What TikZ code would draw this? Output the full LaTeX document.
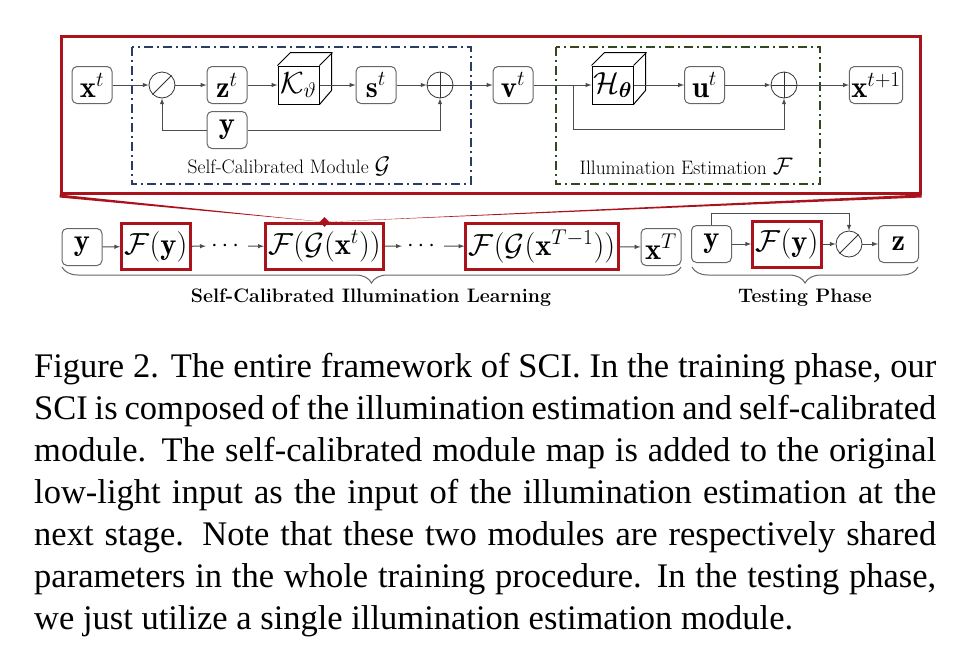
\documentclass[tikz,border=0pt]{standalone}
\usepackage{fix-cm}
\usepackage{amsmath}
\usepackage{fontspec}
\newfontfamily\capfont{Liberation Serif}
\usetikzlibrary{shapes.geometric, arrows, decorations.pathreplacing}

\definecolor{mred}{RGB}{170,18,28}
\definecolor{mblue}{RGB}{42,62,100}
\definecolor{mgreen}{RGB}{52,72,32}
\newcommand{\diagfont}{\fontsize{30.5}{34}\selectfont}
\newcommand{\tagfont}{\fontsize{19.5}{22}\selectfont}
\newcommand{\phasefont}{\fontsize{19.5}{22}\selectfont\bfseries}

\begin{document}
\begin{tikzpicture}[x=1pt, y=-1pt]
  \tikzstyle{line}=[draw, black!70, line width=1pt]
  \tikzstyle{arrow}=[draw, black!70, line width=1pt, -latex]
  \tikzstyle{var} = [rectangle, rounded corners=5pt, draw=black!60, line width=1pt, minimum width=40pt, minimum height=37pt, inner sep=2pt, font=\diagfont]
  \tikzstyle{stage} = [rectangle, draw=mred, line width=3pt, minimum height=46pt, inner sep=3pt, font=\diagfont]
  \tikzstyle{cube} = [rectangle, draw=black, line width=1pt, minimum width=41pt, minimum height=38pt, inner sep=0pt, font=\diagfont]
  \tikzstyle{op} = [circle, draw=black!80, line width=0.8pt, minimum size=26pt, inner sep=0pt]
  \tikzstyle{module} = [draw, line width=1.5pt, dash pattern=on 9pt off 4pt on 2pt off 4pt]
  \tikzstyle{phase} = [draw=black!60, line width=1pt, decorate, decoration={brace, mirror, amplitude=16pt}]

  \useasboundingbox (0,0) rectangle (955,649);

  \node (zoom) [draw=mred, line width=3pt, minimum width=859pt, minimum height=157pt, inner sep=0pt] at (490.5,114.5) {};
  \draw [module, mblue] (132,47) rectangle (471,184);
  \draw [module, mgreen] (556,47) rectangle (820,184);

  \node (xt) [var] at (92,85) {$\mathbf{x}^t$};
  \node (div1) [op] at (162,85) {};
  \draw [black!80, line width=0.8pt] (div1.225) -- (div1.45);
  \node (zt) [var] at (227,85) {$\mathbf{z}^t$};
  \node (K) [cube] at (298.5,85) {$\mathcal{K}_{\vartheta}$};
  \draw [line width=1pt] (K.north west) -- ++(13,-13) -- ++(41,0) -- ++(0,38) -- (K.south east);
  \draw [line width=1pt] (K.north east) -- ++(13,-13);
  \node (st) [var] at (376,85) {$\mathbf{s}^t$};
  \node (plus1) [op] at (440,85) {};
  \draw [black!80, line width=0.8pt] (plus1.north) -- (plus1.south) (plus1.west) -- (plus1.east);
  \node (yy) [var] at (227,130) {$\mathbf{y}$};
  \node (gtag) [font=\tagfont] at (289,166) {Self-Calibrated Module {\fontsize{24}{24}\selectfont$\mathcal{G}$}};

  \node (vt) [var] at (513,85) {$\mathbf{v}^t$};
  \coordinate (split) at (573,85);
  \node (H) [cube] at (612.5,85) {$\mathcal{H}_{\boldsymbol{\theta}}$};
  \draw [line width=1pt] (H.north west) -- ++(13,-13) -- ++(41,0) -- ++(0,38) -- (H.south east);
  \draw [line width=1pt] (H.north east) -- ++(13,-13);
  \node (ut) [var] at (704.5,85) {$\mathbf{u}^t$};
  \node (plus2) [op] at (784,85) {};
  \draw [black!80, line width=0.8pt] (plus2.north) -- (plus2.south) (plus2.west) -- (plus2.east);
  \node (xt1) [var] at (876,85) {$\mathbf{x}^{t+1}$};
  \node (ftag) [font=\tagfont] at (686,166) {Illumination Estimation {\fontsize{24}{24}\selectfont$\mathcal{F}$}};

  \draw [arrow] (xt) -- (div1);
  \draw [arrow] (div1) -- (zt);
  \draw [arrow] (zt) -- (K);
  \draw [arrow] (K) -- (st);
  \draw [arrow] (st) -- (plus1);
  \draw [arrow] (yy) -| (div1);
  \draw [arrow] (yy) -| (plus1);
  \draw [arrow] (plus1) -- (vt);
  \draw [arrow] (vt) -- (H);
  \draw [arrow] (split) -- ++(0,44) -| (plus2);
  \draw [arrow] (H) -- (ut);
  \draw [arrow] (ut) -- (plus2);
  \draw [arrow] (plus2) -- (xt1);

  \node (y1) [var] at (82,247) {$\mathbf{y}$};
  \node (Fy1) [stage] at (156,246.5) {$\mathcal{F}(\mathbf{y})$};
  \node (dots1) [inner sep=5pt, font=\fontsize{24}{24}\selectfont] at (227,246) {$\cdots$};
  \node (FGx) [stage] at (324.5,246.5) {$\mathcal{F}(\mathcal{G}(\mathbf{x}^t))$};
  \node (dots2) [inner sep=5pt, font=\fontsize{24}{24}\selectfont] at (423,246) {$\cdots$};
  \node (FGxT) [stage] at (542,246.5) {$\mathcal{F}(\mathcal{G}(\mathbf{x}^{T-1}))$};
  \node (xT) [var] at (661,247) {$\mathbf{x}^T$};

  \node (y2) [var] at (711.5,244) {$\mathbf{y}$};
  \node (Fy2) [stage] at (787,244) {$\mathcal{F}(\mathbf{y})$};
  \node (div2) [op] at (849,244) {};
  \draw [black!80, line width=0.8pt] (div2.225) -- (div2.45);
  \node (zz) [var] at (898.5,244) {$\mathbf{z}$};

  \draw [arrow] (y1) -- (Fy1);
  \draw [arrow] (Fy1) -- (dots1);
  \draw [arrow] (dots1) -- (FGx);
  \draw [arrow] (FGx) -- (dots2);
  \draw [arrow] (dots2) -- (FGxT);
  \draw [arrow] (FGxT) -- (xT);
  \draw [arrow] (y2) -- (Fy2);
  \draw [arrow] (Fy2) -- (div2);
  \draw [arrow] (div2) -- (zz);
  \draw [arrow] (y2.north) -- ++(0,-12) -| (div2.north);

  \fill [mred] (zoom.south west) -- ([yshift=-3pt]zoom.south west) -- (FGx.north) -- cycle;
  \fill [mred] (zoom.south east) -- ([yshift=-3pt]zoom.south east) -- (FGx.north) -- cycle;
  \node (tip) [diamond, fill=mred, minimum size=10pt, inner sep=0pt] at (FGx.north) {};

  \draw [phase] (62,267) -- (681,267);
  \draw [phase] (692,267) -- (918,267);
  \node (learn) [font=\phasefont] at (371,298) {Self-Calibrated Illumination Learning};
  \node (test) [font=\phasefont] at (805,298) {Testing Phase};

  \node (caption) [anchor=base west, text width=902pt, inner sep=0pt, align=justify, font=\capfont\fontsize{34.5}{42}\selectfont] at (34,377) {Figure 2. The entire framework of SCI. In the training phase, our\linebreak SCI is composed of the illumination estimation and self-calibrated\linebreak module. The self-calibrated module map is added to the original\linebreak low-light input as the input of the illumination estimation at the\linebreak next stage. Note that these two modules are respectively shared\linebreak parameters in the whole training procedure. In the testing phase,\linebreak we just utilize a single illumination estimation module.};
\end{tikzpicture}
\end{document}
